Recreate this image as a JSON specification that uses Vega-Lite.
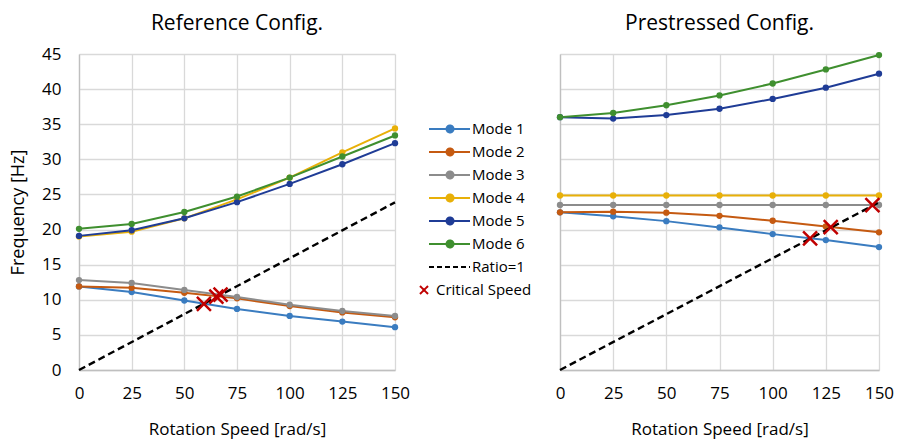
{
  "$schema": "https://vega.github.io/schema/vega-lite/v6.json",
  "background": "white",
  "padding": {"left": 9, "top": 13, "right": 5, "bottom": 2},
  "config": {
    "view": {"stroke": null},
    "font": "Open Sans",
    "axis": {"gridColor": "#d9d9d9", "gridWidth": 1.3, "domainColor": "#bfbfbf", "domainWidth": 1.3, "ticks": false, "labelFont": "Open Sans", "labelFontSize": 17, "labelColor": "#000", "titleFont": "Open Sans", "titleFontSize": 17, "titleFontWeight": "normal", "titleColor": "#000", "labelFlush": false, "labelOverlap": false},
    "title": {"font": "Open Sans", "fontSize": 21, "fontWeight": "normal", "color": "#000", "anchor": "middle"}
  },
  "datasets": {
    "d": [
      {"p": "ref", "s": "Mode 1", "x": 0, "y": 11.9}, {"p": "ref", "s": "Mode 1", "x": 25, "y": 11.1}, {"p": "ref", "s": "Mode 1", "x": 50, "y": 9.9}, {"p": "ref", "s": "Mode 1", "x": 75, "y": 8.7}, {"p": "ref", "s": "Mode 1", "x": 100, "y": 7.7}, {"p": "ref", "s": "Mode 1", "x": 125, "y": 6.9}, {"p": "ref", "s": "Mode 1", "x": 150, "y": 6.1},
      {"p": "ref", "s": "Mode 2", "x": 0, "y": 11.9}, {"p": "ref", "s": "Mode 2", "x": 25, "y": 11.7}, {"p": "ref", "s": "Mode 2", "x": 50, "y": 11.0}, {"p": "ref", "s": "Mode 2", "x": 75, "y": 10.2}, {"p": "ref", "s": "Mode 2", "x": 100, "y": 9.1}, {"p": "ref", "s": "Mode 2", "x": 125, "y": 8.2}, {"p": "ref", "s": "Mode 2", "x": 150, "y": 7.5},
      {"p": "ref", "s": "Mode 3", "x": 0, "y": 12.8}, {"p": "ref", "s": "Mode 3", "x": 25, "y": 12.4}, {"p": "ref", "s": "Mode 3", "x": 50, "y": 11.4}, {"p": "ref", "s": "Mode 3", "x": 75, "y": 10.4}, {"p": "ref", "s": "Mode 3", "x": 100, "y": 9.3}, {"p": "ref", "s": "Mode 3", "x": 125, "y": 8.4}, {"p": "ref", "s": "Mode 3", "x": 150, "y": 7.7},
      {"p": "ref", "s": "Mode 4", "x": 0, "y": 19.0}, {"p": "ref", "s": "Mode 4", "x": 25, "y": 19.7}, {"p": "ref", "s": "Mode 4", "x": 50, "y": 21.6}, {"p": "ref", "s": "Mode 4", "x": 75, "y": 24.3}, {"p": "ref", "s": "Mode 4", "x": 100, "y": 27.4}, {"p": "ref", "s": "Mode 4", "x": 125, "y": 31.0}, {"p": "ref", "s": "Mode 4", "x": 150, "y": 34.4},
      {"p": "ref", "s": "Mode 5", "x": 0, "y": 19.1}, {"p": "ref", "s": "Mode 5", "x": 25, "y": 19.9}, {"p": "ref", "s": "Mode 5", "x": 50, "y": 21.6}, {"p": "ref", "s": "Mode 5", "x": 75, "y": 23.9}, {"p": "ref", "s": "Mode 5", "x": 100, "y": 26.5}, {"p": "ref", "s": "Mode 5", "x": 125, "y": 29.3}, {"p": "ref", "s": "Mode 5", "x": 150, "y": 32.3},
      {"p": "ref", "s": "Mode 6", "x": 0, "y": 20.1}, {"p": "ref", "s": "Mode 6", "x": 25, "y": 20.8}, {"p": "ref", "s": "Mode 6", "x": 50, "y": 22.5}, {"p": "ref", "s": "Mode 6", "x": 75, "y": 24.7}, {"p": "ref", "s": "Mode 6", "x": 100, "y": 27.4}, {"p": "ref", "s": "Mode 6", "x": 125, "y": 30.4}, {"p": "ref", "s": "Mode 6", "x": 150, "y": 33.4},
      {"p": "pre", "s": "Mode 1", "x": 0, "y": 22.45}, {"p": "pre", "s": "Mode 1", "x": 25, "y": 21.9}, {"p": "pre", "s": "Mode 1", "x": 50, "y": 21.2}, {"p": "pre", "s": "Mode 1", "x": 75, "y": 20.3}, {"p": "pre", "s": "Mode 1", "x": 100, "y": 19.35}, {"p": "pre", "s": "Mode 1", "x": 125, "y": 18.5}, {"p": "pre", "s": "Mode 1", "x": 150, "y": 17.5},
      {"p": "pre", "s": "Mode 2", "x": 0, "y": 22.45}, {"p": "pre", "s": "Mode 2", "x": 25, "y": 22.55}, {"p": "pre", "s": "Mode 2", "x": 50, "y": 22.4}, {"p": "pre", "s": "Mode 2", "x": 75, "y": 21.95}, {"p": "pre", "s": "Mode 2", "x": 100, "y": 21.25}, {"p": "pre", "s": "Mode 2", "x": 125, "y": 20.45}, {"p": "pre", "s": "Mode 2", "x": 150, "y": 19.6},
      {"p": "pre", "s": "Mode 3", "x": 0, "y": 23.5}, {"p": "pre", "s": "Mode 3", "x": 25, "y": 23.5}, {"p": "pre", "s": "Mode 3", "x": 50, "y": 23.5}, {"p": "pre", "s": "Mode 3", "x": 75, "y": 23.5}, {"p": "pre", "s": "Mode 3", "x": 100, "y": 23.5}, {"p": "pre", "s": "Mode 3", "x": 125, "y": 23.5}, {"p": "pre", "s": "Mode 3", "x": 150, "y": 23.5},
      {"p": "pre", "s": "Mode 4", "x": 0, "y": 24.85}, {"p": "pre", "s": "Mode 4", "x": 25, "y": 24.85}, {"p": "pre", "s": "Mode 4", "x": 50, "y": 24.85}, {"p": "pre", "s": "Mode 4", "x": 75, "y": 24.85}, {"p": "pre", "s": "Mode 4", "x": 100, "y": 24.85}, {"p": "pre", "s": "Mode 4", "x": 125, "y": 24.85}, {"p": "pre", "s": "Mode 4", "x": 150, "y": 24.85},
      {"p": "pre", "s": "Mode 5", "x": 0, "y": 36.0}, {"p": "pre", "s": "Mode 5", "x": 25, "y": 35.8}, {"p": "pre", "s": "Mode 5", "x": 50, "y": 36.3}, {"p": "pre", "s": "Mode 5", "x": 75, "y": 37.2}, {"p": "pre", "s": "Mode 5", "x": 100, "y": 38.6}, {"p": "pre", "s": "Mode 5", "x": 125, "y": 40.2}, {"p": "pre", "s": "Mode 5", "x": 150, "y": 42.2},
      {"p": "pre", "s": "Mode 6", "x": 0, "y": 36.0}, {"p": "pre", "s": "Mode 6", "x": 25, "y": 36.6}, {"p": "pre", "s": "Mode 6", "x": 50, "y": 37.7}, {"p": "pre", "s": "Mode 6", "x": 75, "y": 39.1}, {"p": "pre", "s": "Mode 6", "x": 100, "y": 40.8}, {"p": "pre", "s": "Mode 6", "x": 125, "y": 42.8}, {"p": "pre", "s": "Mode 6", "x": 150, "y": 44.85}
    ],
    "ratio": [
      {"p": "ref", "s": "Ratio=1", "x": 0, "y": 0}, {"p": "ref", "s": "Ratio=1", "x": 150, "y": 23.87},
      {"p": "pre", "s": "Ratio=1", "x": 0, "y": 0}, {"p": "pre", "s": "Ratio=1", "x": 150, "y": 23.87}
    ],
    "crit": [
      {"p": "ref", "s": "Critical Speed", "x": 59.3, "y": 9.4}, {"p": "ref", "s": "Critical Speed", "x": 65.2, "y": 10.45}, {"p": "ref", "s": "Critical Speed", "x": 67.2, "y": 10.75},
      {"p": "pre", "s": "Critical Speed", "x": 117.6, "y": 18.73}, {"p": "pre", "s": "Critical Speed", "x": 127.3, "y": 20.36}, {"p": "pre", "s": "Critical Speed", "x": 146.9, "y": 23.48}
    ]
  },
  "resolve": {"scale": {"color": "independent"}},
  "spacing": 165,
  "bounds": "flush",
  "hconcat": [
    {
      "title": {"text": "Reference Config.", "offset": 11},
      "width": 316,
      "height": 316,
      "encoding": {
        "x": {"field": "x", "type": "quantitative", "scale": {"domain": [0, 150], "nice": false}, "axis": {"values": [0, 25, 50, 75, 100, 125, 150], "title": "Rotation Speed [rad/s]", "labelPadding": 15, "titlePadding": 20}},
        "y": {"field": "y", "type": "quantitative", "scale": {"domain": [0, 45], "nice": false}, "axis": {"values": [0, 5, 10, 15, 20, 25, 30, 35, 40, 45], "title": "Frequency [Hz]", "titleFontSize": 18, "labelPadding": 18, "titlePadding": 14}},
        "color": {
          "field": "s", "type": "nominal",
          "scale": {"domain": ["Mode 1", "Mode 2", "Mode 3", "Mode 4", "Mode 5", "Mode 6", "Ratio=1", "Critical Speed"], "range": ["#3a7cc0", "#c55a11", "#8c8c8c", "#e8b008", "#1f3c96", "#3f8f2f", "#000000", "#c00000"]},
          "legend": {
            "orient": "none", "legendX": 360, "legendY": 64, "title": null,
            "symbolSize": 400, "symbolStrokeWidth": 2, "labelOffset": 11, "rowPadding": 4,
            "labelFont": "Open Sans", "labelFontSize": 15, "labelColor": "#000",
            "encode": {
              "symbols": {"update": {
                "shape": {"signal": "datum.value === 'Critical Speed' ? 'M-3,-0.4L-2.2,0.4M-3,0.4L-2.2,-0.4' : datum.value === 'Ratio=1' ? 'M-2.1,0L2,0' : 'M-2.1,0L2,0M-0.35,0A0.35,0.35,0,1,1,0.35,0A0.35,0.35,0,1,1,-0.35,0'"},
                "stroke": {"signal": "({'Mode 1':'#3a7cc0','Mode 2':'#c55a11','Mode 3':'#8c8c8c','Mode 4':'#e8b008','Mode 5':'#1f3c96','Mode 6':'#3f8f2f','Ratio=1':'#000000','Critical Speed':'#c00000'})[datum.value]"},
                "fill": {"signal": "datum.value === 'Critical Speed' || datum.value === 'Ratio=1' ? 'transparent' : ({'Mode 1':'#3a7cc0','Mode 2':'#c55a11','Mode 3':'#8c8c8c','Mode 4':'#e8b008','Mode 5':'#1f3c96','Mode 6':'#3f8f2f'})[datum.value]"},
                "strokeDash": {"signal": "datum.value === 'Ratio=1' ? [5, 3] : [1, 0]"},
                "strokeWidth": {"value": 2},
                "opacity": {"value": 1}
              }},
              "labels": {"update": {"dx": {"signal": "datum.value === 'Critical Speed' ? -36 : 0"}}}
            }
          }
        }
      },
      "layer": [
        {
          "data": {"name": "d"},
          "transform": [{"filter": "datum.p === 'ref'"}],
          "mark": {"type": "line", "strokeWidth": 2, "point": {"filled": true, "size": 40}}
        },
        {
          "data": {"name": "ratio"},
          "transform": [{"filter": "datum.p === 'ref'"}],
          "mark": {"type": "line", "strokeWidth": 2.4, "strokeDash": [7, 4]}
        },
        {
          "data": {"name": "crit"},
          "transform": [{"filter": "datum.p === 'ref'"}],
          "mark": {"type": "point", "shape": "M-1,-1L1,1M-1,1L1,-1", "filled": false, "size": 196, "strokeWidth": 2.5, "opacity": 1}
        }
      ]
    },
    {
      "title": {"text": "Prestressed Config.", "offset": 17},
      "width": 319,
      "height": 316,
      "encoding": {
        "x": {"field": "x", "type": "quantitative", "scale": {"domain": [0, 150], "nice": false}, "axis": {"values": [0, 25, 50, 75, 100, 125, 150], "title": "Rotation Speed [rad/s]", "labelPadding": 15, "titlePadding": 20}},
        "y": {"field": "y", "type": "quantitative", "scale": {"domain": [0, 45], "nice": false}, "axis": {"values": [0, 5, 10, 15, 20, 25, 30, 35, 40, 45], "title": null, "labels": false}},
        "color": {
          "field": "s", "type": "nominal",
          "scale": {"domain": ["Mode 1", "Mode 2", "Mode 3", "Mode 4", "Mode 5", "Mode 6", "Ratio=1", "Critical Speed"], "range": ["#3a7cc0", "#c55a11", "#8c8c8c", "#e8b008", "#1f3c96", "#3f8f2f", "#000000", "#c00000"]},
          "legend": null
        }
      },
      "layer": [
        {
          "data": {"name": "d"},
          "transform": [{"filter": "datum.p === 'pre'"}],
          "mark": {"type": "line", "strokeWidth": 2, "point": {"filled": true, "size": 40}}
        },
        {
          "data": {"name": "ratio"},
          "transform": [{"filter": "datum.p === 'pre'"}],
          "mark": {"type": "line", "strokeWidth": 2.4, "strokeDash": [7, 4]}
        },
        {
          "data": {"name": "crit"},
          "transform": [{"filter": "datum.p === 'pre'"}],
          "mark": {"type": "point", "shape": "M-1,-1L1,1M-1,1L1,-1", "filled": false, "size": 196, "strokeWidth": 2.5, "opacity": 1}
        }
      ]
    }
  ]
}
